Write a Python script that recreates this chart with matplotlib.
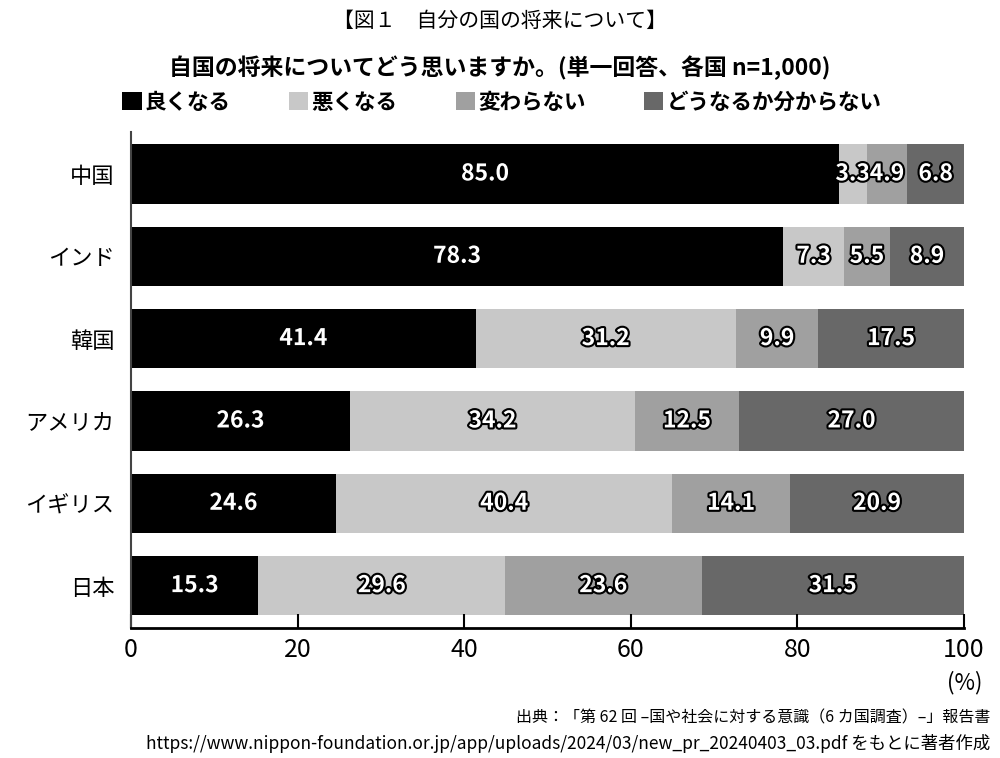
import matplotlib
matplotlib.use('Agg')
import matplotlib.pyplot as plt
import matplotlib.patches as mpatches
import matplotlib.patheffects as pe
import numpy as np

plt.rcParams['font.family'] = ['Noto Sans CJK JP', 'DejaVu Sans']

countries = ['中国', 'インド', '韓国', 'アメリカ', 'イギリス', '日本']
good = [85.0, 78.3, 41.4, 26.3, 24.6, 15.3]
bad = [3.3, 7.3, 31.2, 34.2, 40.4, 29.6]
same = [4.9, 5.5, 9.9, 12.5, 14.1, 23.6]
unknown = [6.8, 8.9, 17.5, 27.0, 20.9, 31.5]
series_names = ['良くなる', '悪くなる', '変わらない', 'どうなるか分からない']
colors = ['#000000', '#c8c8c8', '#a0a0a0', '#686868']

fig = plt.figure(figsize=(10, 7.58), dpi=100)
ax = fig.add_axes([0.131, 0.172, 0.833, 0.654])

y = np.arange(len(countries))[::-1]
left = np.zeros(len(countries))
stroke = [pe.withStroke(linewidth=3, foreground='black')]
for vals, col in zip([good, bad, same, unknown], colors):
    vals = np.array(vals)
    ax.barh(y, vals, left=left, height=0.72, color=col, edgecolor='none')
    for yi, l, v in zip(y, left, vals):
        ax.text(l + v / 2, yi, f'{v:.1f}', ha='center', va='center',
                color='white', fontsize=16.5, fontweight='bold', path_effects=stroke)
    left += vals

ax.set_xlim(0, 100)
ax.set_ylim(-0.51, 5.51)
ax.set_yticks(y)
ax.set_yticklabels(countries, fontsize=16)
ax.tick_params(axis='y', length=0, pad=12)
ax.set_xticks([0, 20, 40, 60, 80, 100])
ax.tick_params(axis='x', direction='in', length=10, width=1.5, labelsize=18, pad=7)
for s in ['top', 'right']:
    ax.spines[s].set_visible(False)
ax.spines['bottom'].set_linewidth(2)
ax.spines['left'].set_linewidth(1.5)
ax.spines['left'].set_color('#444444')

fig.text(0.965, 0.100, '(%)', ha='center', va='center', fontsize=16)

fig.text(0.5, 0.973, '【図１　自分の国の将来について】', ha='center', va='center', fontsize=15)
fig.text(0.5, 0.911, '自国の将来についてどう思いますか。(単一回答、各国 n=1,000)',
         ha='center', va='center', fontsize=16.5, fontweight='bold')

handles = [mpatches.Patch(facecolor=c, edgecolor='none') for c in colors]
fig.legend(handles, series_names, loc='center', bbox_to_anchor=(0.502, 0.865), ncol=4,
           frameon=False, handlelength=0.9, handleheight=0.9,
           handletextpad=0.15, columnspacing=2.7, prop={'weight': 'bold', 'size': 15.5})

fig.text(0.990, 0.053, '出典：「第 62 回 –国や社会に対する意識（6 カ国調査）–」報告書',
         ha='right', va='center', fontsize=11.5)
fig.text(0.990, 0.019,
         'https://www.nippon-foundation.or.jp/app/uploads/2024/03/new_pr_20240403_03.pdf をもとに著者作成',
         ha='right', va='center', fontsize=12.5)

fig.savefig('out.png', dpi=100)
